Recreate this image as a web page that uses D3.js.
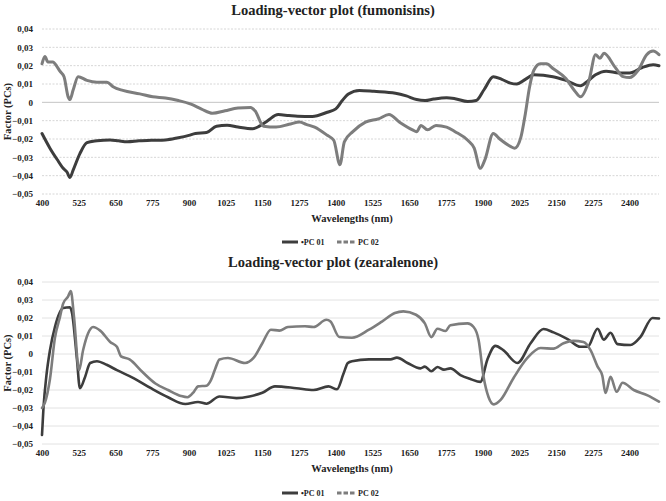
<!DOCTYPE html>
<html><head><meta charset="utf-8">
<script src="https://cdn.jsdelivr.net/npm/d3@7"></script>
<style>
body{margin:0;background:#fff;}
svg text{font-family:"Liberation Serif","Times New Roman",serif !important;font-weight:bold;fill:#222;}
</style></head>
<body><svg id="c" width="666" height="501"></svg>
<script>
// ---- data ----
const yTicks = [0.04,0.03,0.02,0.01,0,-0.01,-0.02,-0.03,-0.04,-0.05];
const xTicks = [400,525,650,775,900,1025,1150,1275,1400,1525,1650,1775,1900,2025,2150,2275,2400];
const seriesNames = ["PC 01","PC 02"];

const fumPC01nm  = [400,427,455,472,485,495,506,529,553,587,632,660,690,730,772,820,864,900,922,960,994,1030,1067,1117,1140,1168,1204,1240,1270,1320,1371,1400,1422,1443,1480,1530,1603,1640,1675,1704,1733,1777,1806,1849,1878,1905,1936,1965,1994,2016,2045,2074,2139,2183,2233,2260,2284,2320,2364,2400,2443,2480,2500];
const fumPC01val = [-0.017,-0.025,-0.032,-0.036,-0.038,-0.041,-0.037,-0.028,-0.022,-0.021,-0.0205,-0.021,-0.0215,-0.021,-0.0207,-0.0205,-0.0193,-0.018,-0.017,-0.0165,-0.013,-0.0125,-0.0135,-0.0144,-0.013,-0.010,-0.0067,-0.0072,-0.0076,-0.0077,-0.0054,-0.0036,0.001,0.0045,0.0065,0.006,0.005,0.0035,0.0015,0.001,0.0018,0.0025,0.002,0.0005,0.001,0.007,0.014,0.0125,0.0105,0.010,0.0125,0.015,0.014,0.012,0.009,0.012,0.015,0.017,0.016,0.016,0.019,0.0205,0.020];

const fumPC02nm  = [400,410,420,437,451,461,475,489,495,506,523,553,587,621,642,675,733,777,820,864,907,943,980,1023,1067,1110,1125,1154,1197,1241,1277,1299,1328,1371,1393,1414,1429,1458,1501,1545,1581,1617,1661,1675,1690,1712,1741,1777,1806,1849,1871,1892,1907,1936,1958,1994,2009,2030,2045,2059,2074,2096,2117,2139,2183,2212,2233,2262,2284,2299,2313,2349,2378,2400,2429,2458,2480,2500];
const fumPC02val = [0.021,0.025,0.022,0.022,0.0195,0.017,0.014,0.003,0.0015,0.0067,0.014,0.012,0.011,0.011,0.0085,0.0065,0.0046,0.003,0.0024,0.001,-0.001,-0.0037,-0.006,-0.0046,-0.0031,-0.0028,-0.0046,-0.013,-0.0135,-0.012,-0.0107,-0.012,-0.0135,-0.018,-0.0207,-0.034,-0.0216,-0.016,-0.0108,-0.009,-0.0067,-0.0108,-0.015,-0.016,-0.0126,-0.015,-0.0126,-0.0135,-0.016,-0.0207,-0.025,-0.036,-0.0315,-0.017,-0.02,-0.024,-0.025,-0.019,-0.0063,0.008,0.0175,0.021,0.021,0.0185,0.013,0.0065,0.003,0.012,0.026,0.024,0.0268,0.0195,0.014,0.0135,0.0175,0.026,0.028,0.026];

const zeaPC01nm  = [400,405,415,427,444,472,495,502,519,529,546,564,587,620,655,713,771,829,888,931,960,1004,1062,1106,1150,1193,1266,1324,1375,1404,1426,1441,1455,1513,1586,1608,1644,1688,1703,1725,1746,1768,1790,1824,1860,1892,1916,1943,1971,2018,2063,2107,2141,2189,2233,2257,2291,2312,2335,2359,2403,2437,2478,2500];
const zeaPC01val = [-0.045,-0.03,-0.012,0.002,0.015,0.0255,0.026,0.023,-0.003,-0.019,-0.013,-0.005,-0.004,-0.006,-0.009,-0.0135,-0.019,-0.024,-0.0278,-0.0267,-0.0276,-0.0236,-0.0245,-0.0236,-0.0215,-0.018,-0.019,-0.02,-0.018,-0.0196,-0.011,-0.005,-0.004,-0.003,-0.003,-0.002,-0.005,-0.008,-0.007,-0.0096,-0.0072,-0.0087,-0.008,-0.0117,-0.014,-0.0155,-0.003,0.0045,0.002,-0.005,0.006,0.0139,0.012,0.0083,0.004,0.004,0.014,0.008,0.0118,0.0055,0.005,0.0095,0.02,0.0197];

const zeaPC02nm  = [400,410,427,444,461,472,489,498,509,526,540,557,574,598,632,655,669,698,742,786,829,873,895,917,931,960,975,990,1004,1033,1091,1120,1150,1179,1208,1237,1295,1324,1368,1382,1412,1455,1513,1557,1601,1630,1673,1703,1725,1746,1773,1790,1848,1869,1886,1903,1920,1938,1961,2005,2052,2097,2141,2175,2209,2243,2267,2291,2307,2318,2335,2356,2376,2414,2461,2500];
const zeaPC02val = [-0.03,-0.027,-0.014,0.009,0.0205,0.028,0.032,0.035,0.0205,-0.009,0.0022,0.0115,0.015,0.013,0.0067,0.004,-0.0013,-0.003,-0.01,-0.0164,-0.02,-0.0233,-0.024,-0.021,-0.018,-0.0176,-0.0145,-0.008,-0.003,-0.0022,-0.005,-0.0022,0.006,0.0135,0.013,0.015,0.0154,0.015,0.019,0.018,0.0094,0.009,0.0135,0.018,0.0228,0.0237,0.0218,0.017,0.0094,0.014,0.0128,0.016,0.017,0.015,0.0078,-0.0128,-0.024,-0.028,-0.0255,-0.0133,-0.0022,0.0033,0.003,0.006,0.0073,0.0067,0.0022,-0.007,-0.012,-0.0217,-0.0127,-0.021,-0.016,-0.02,-0.023,-0.0265];

// ---- drawing ----
const svg = d3.select("#c");
const FONT = "'Liberation Serif','Times New Roman',serif";
const colors = ["#3d3d3d","#7d7d7d"];
const fmt = v => v === 0 ? "0" : d3.format(".2f")(v).replace(".", ",");

function panel(cfg){
  const x = d3.scaleLinear().domain([400,2500]).range([42,659]);
  const y = d3.scaleLinear().domain([-0.05,0.04]).range([cfg.y1, cfg.y0]);
  const g = svg.append("g").attr("font-family",FONT);
  g.append("text").attr("x",333).attr("y",cfg.titleY).attr("text-anchor","middle")
    .attr("font-size","14.5px").text(cfg.title);
  g.selectAll(".grid").data(yTicks).enter().append("line")
    .attr("x1",x(400)).attr("x2",x(2500))
    .attr("y1",d=>y(d)).attr("y2",d=>y(d))
    .attr("stroke", d => cfg.dotted ? (d===0?"#c4c4c4":"#d6d6d6") : "#e2e2e2")
    .attr("stroke-width",1)
    .attr("stroke-dasharray", d => (cfg.dotted && d!==0) ? "2,1.5" : null);
  const ya = d3.axisLeft(y).tickValues(yTicks).tickFormat(fmt).tickSize(0).tickPadding(0);
  const yg = g.append("g").attr("transform","translate(33,0)").call(ya).attr("font-family",FONT);
  yg.select(".domain").remove();
  yg.selectAll("text").attr("font-size","9px").attr("fill","#222").attr("dy","0.32em");
  const xa = d3.axisBottom(x).tickValues(xTicks).tickFormat(d3.format("d")).tickSize(0).tickPadding(0);
  const xg = g.append("g").attr("transform",`translate(0,${cfg.y1+6})`).call(xa).attr("font-family",FONT);
  xg.select(".domain").remove();
  xg.selectAll("text").attr("font-size","9px").attr("fill","#222");
  g.append("text").attr("x",352).attr("y",cfg.y1+28).attr("text-anchor","middle")
    .attr("font-size","10.5px").text("Wavelengths (nm)");
  g.append("text").attr("transform",`translate(11,${(cfg.y0+cfg.y1)/2}) rotate(-90)`)
    .attr("text-anchor","middle").attr("font-size","10.5px").text("Factor (PCs)");
  const line = d3.line().x(d=>x(d[0])).y(d=>y(d[1])).curve(d3.curveMonotoneX);
  cfg.series.forEach((s,i)=>{
    g.append("path").datum(d3.zip(s[0],s[1]))
      .attr("fill","none").attr("stroke",colors[i]).attr("stroke-width",cfg.sw)
      .attr("stroke-linejoin","round").attr("stroke-linecap","round").attr("d",line);
  });
  const ly = cfg.legendY;
  const lg = g.append("g");
  lg.append("line").attr("x1",282).attr("x2",298).attr("y1",ly).attr("y2",ly)
    .attr("stroke",colors[0]).attr("stroke-width",3);
  lg.append("text").attr("x",301).attr("y",ly+3).attr("font-size","8px").text("•" + seriesNames[0]);
  lg.append("line").attr("x1",337).attr("x2",355).attr("y1",ly).attr("y2",ly)
    .attr("stroke",colors[1]).attr("stroke-width",3).attr("stroke-dasharray","4.5,2");
  lg.append("text").attr("x",358).attr("y",ly+3).attr("font-size","8px").text(seriesNames[1]);
}

panel({title:"Loading-vector plot (fumonisins)", titleY:15, y0:29, y1:194, dotted:true, sw:3,
  legendY:242, series:[[fumPC01nm,fumPC01val],[fumPC02nm,fumPC02val]]});
panel({title:"Loading-vector plot (zearalenone)", titleY:267, y0:282, y1:444, dotted:false, sw:2.6,
  legendY:493, series:[[zeaPC01nm,zeaPC01val],[zeaPC02nm,zeaPC02val]]});
</script></body></html>
